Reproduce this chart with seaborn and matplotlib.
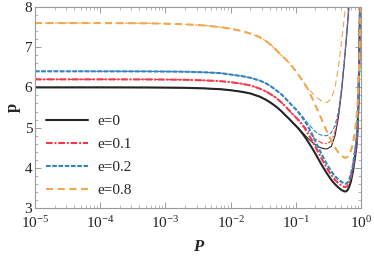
import numpy as np
import pandas as pd
import seaborn as sns
import matplotlib
matplotlib.use("Agg")
import matplotlib.pyplot as plt
from matplotlib.ticker import LogLocator, MultipleLocator, NullFormatter

# ---- data ----
P_thick = [1e-5, 1e-4, 5e-4, 1e-3, 2e-3, 4e-3, 7e-3, 0.01, 0.015, 0.02,
           0.028, 0.035, 0.042, 0.05, 0.06, 0.07, 0.08, 0.09, 0.105, 0.12,
           0.135, 0.15, 0.175, 0.2, 0.225, 0.25, 0.275, 0.3, 0.35, 0.4,
           0.45, 0.5, 0.55, 0.58, 0.62, 0.66, 0.7, 0.75, 0.8, 0.85,
           0.88, 0.91, 0.94, 0.97]
p_e0 = [6.0, 6.0, 5.998, 5.995, 5.99, 5.975, 5.955, 5.93, 5.89, 5.85,
        5.77, 5.69, 5.61, 5.52, 5.41, 5.3, 5.21, 5.12, 5.01, 4.9,
        4.79, 4.68, 4.51, 4.35, 4.2, 4.07, 3.96, 3.86, 3.7, 3.59,
        3.51, 3.45, 3.415, 3.41, 3.44, 3.53, 3.66, 3.9, 4.2, 4.52,
        4.85, 5.5, 6.6, 8.2]
p_e01 = [6.2, 6.2, 6.198, 6.195, 6.19, 6.175, 6.155, 6.13, 6.09, 6.05,
         5.97, 5.9, 5.82, 5.74, 5.63, 5.52, 5.42, 5.33, 5.22, 5.11,
         5.0, 4.88, 4.7, 4.52, 4.36, 4.22, 4.1, 3.99, 3.82, 3.7,
         3.62, 3.56, 3.525, 3.52, 3.55, 3.64, 3.77, 4.0, 4.3, 4.62,
         4.95, 5.6, 6.7, 8.2]
p_e02 = [6.4, 6.4, 6.398, 6.395, 6.39, 6.375, 6.355, 6.32, 6.28, 6.24,
         6.17, 6.1, 6.02, 5.93, 5.83, 5.72, 5.62, 5.53, 5.42, 5.3,
         5.18, 5.06, 4.86, 4.66, 4.48, 4.33, 4.2, 4.09, 3.91, 3.79,
         3.71, 3.65, 3.61, 3.6, 3.63, 3.71, 3.84, 4.06, 4.36, 4.68,
         5.02, 5.6, 6.6, 8.0]
P_orange = P_thick + [0.99]
p_e08 = [7.6, 7.6, 7.595, 7.585, 7.57, 7.54, 7.5, 7.46, 7.4, 7.34,
         7.25, 7.15, 7.05, 6.93, 6.8, 6.7, 6.6, 6.5, 6.36, 6.22,
         6.1, 5.98, 5.76, 5.55, 5.37, 5.2, 5.04, 4.9, 4.68, 4.5,
         4.38, 4.3, 4.26, 4.25, 4.27, 4.33, 4.42, 4.6, 4.85, 5.2,
         5.5, 6.0, 6.6, 7.4, 8.3]

# thin curves: identical to the thick ones at small P, then they split off
P_thin = P_thick[:33] + [0.6, 0.65, 0.7]
q_e0 = p_e0[:18] + [5.02, 4.92, 4.83, 4.75, 4.65, 4.57, 4.52, 4.49, 4.475, 4.47,
                    4.53, 4.8, 5.25, 5.85, 6.55, 7.25, 7.95, 8.6]
q_e01 = p_e01[:18] + [5.23, 5.13, 5.03, 4.94, 4.82, 4.72, 4.66, 4.62, 4.605, 4.6,
                      4.67, 4.9, 5.3, 5.9, 6.6, 7.3, 8.0, 8.6]
q_e02 = p_e02[:18] + [5.43, 5.33, 5.22, 5.12, 5.0, 4.9, 4.84, 4.81, 4.8, 4.8,
                      4.87, 5.05, 5.4, 5.95, 6.6, 7.3, 8.0, 8.6]
q_e08 = p_e08[:21] + [6.0, 5.88, 5.78, 5.71, 5.66, 5.63, 5.62, 5.72, 6.0, 6.5,
                      7.1, 7.7, 8.2, 8.8, 9.4]

labels = ["e=0", "e=0.1", "e=0.2", "e=0.8"]
colors = ["#262626", "#f23a4a", "#3585bd", "#f0a74e"]
styles = ["-", (0, (3.2, 0.9, 0.9, 0.9)), (0, (2.2, 0.8)), (0, (3.4, 2.2))]
thin_styles = ["-", (0, (5, 1.6, 1.6, 1.6)), (0, (4, 1.5)), (0, (5.5, 3.5))]

# ---- style ----
sns.set_style("ticks")
plt.rcParams["font.family"] = ["Liberation Serif", "DejaVu Serif"]
plt.rcParams["mathtext.fontset"] = "stix"
plt.rcParams["xtick.direction"] = "in"
plt.rcParams["ytick.direction"] = "in"

fig = plt.figure(figsize=(3.74, 2.56), dpi=100)
ax = fig.add_axes([35 / 374, 1 - 208 / 256, 326 / 374, 201 / 256])

thick = [(P_thick, p_e0), (P_thick, p_e01), (P_thick, p_e02), (P_orange, p_e08)]
thin = [q_e0, q_e01, q_e02, q_e08]
for i in range(4):
    x, y = thick[i]
    sns.lineplot(x=x, y=y, ax=ax, color=colors[i], linewidth=1.5,
                 linestyle=styles[i], label=labels[i], sort=False)
    sns.lineplot(x=P_thin, y=thin[i], ax=ax, color=colors[i], linewidth=0.8,
                 linestyle=thin_styles[i], sort=False)

ax.set_xscale("log")
ax.set_xlim(1e-5, 1)
ax.set_ylim(3, 8)
ax.set_yticks([3, 4, 5, 6, 7, 8])
ax.yaxis.set_minor_locator(MultipleLocator(0.2))
ax.xaxis.set_major_locator(LogLocator(base=10, numticks=10))
ax.xaxis.set_minor_locator(LogLocator(base=10, subs=np.arange(2, 10), numticks=20))
ax.xaxis.set_minor_formatter(NullFormatter())

for s in ax.spines.values():
    s.set_color("#9a9a9a")
    s.set_linewidth(0.8)
ax.tick_params(which="both", top=True, right=True, color="#9a9a9a",
               labelsize=11, labelcolor="#222222")
ax.tick_params(axis="x", which="major", pad=5)
ax.tick_params(axis="y", which="major", pad=2)
ax.tick_params(which="major", length=4, width=0.7)
ax.tick_params(which="minor", length=2, width=0.5)

ax.set_xlabel("P", fontsize=12, fontweight="bold", fontstyle="italic", labelpad=6)
ax.set_ylabel("p", fontsize=12, fontweight="bold", labelpad=3)

leg = ax.legend(loc="upper left", bbox_to_anchor=(0.0, 0.52), frameon=False,
                fontsize=11, handlelength=2.8, handletextpad=0.6,
                labelspacing=0.62, borderaxespad=0.3)

fig.savefig("out.png", dpi=100)
